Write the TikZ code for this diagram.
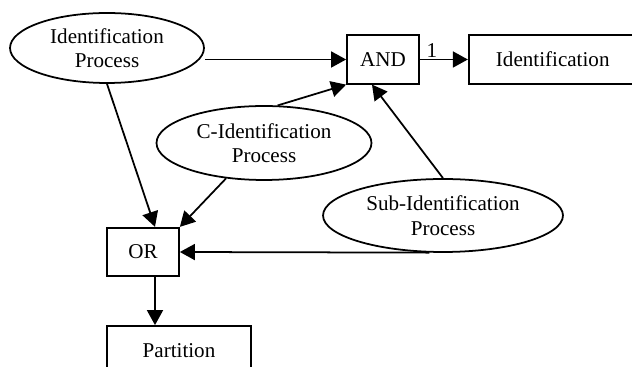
\documentclass[tikz,border=0pt]{standalone}
\usepackage{fontspec}
\setmainfont{Liberation Serif}
\usetikzlibrary{shapes.geometric, positioning, arrows.meta}

\begin{document}
\begin{tikzpicture}[x=0.02cm, y=-0.02cm, line width=1pt, >={Triangle[length=0.3cm, width=0.32cm]},
        font=\fontsize{12}{14}\selectfont,
        proc/.style={draw, ellipse, align=center, inner sep=0pt},
        gate/.style={draw, rectangle, minimum width=1.44cm, minimum height=0.97cm},
        result/.style={draw, rectangle, minimum height=0.97cm}]
        \useasboundingbox (0,0) rectangle (632,367);
        \clip (0,0) rectangle (632,367);
        % Nodes
        \node (idproc) [proc, minimum width=3.88cm, minimum height=1.4cm] at (107,48) {Identification\\Process};
        \node (and) [gate] at (383,59.5) {AND};
        \node (ident) [result, minimum width=3.36cm, right=0.96cm of and] {Identification};
        \node (cid) [proc, minimum width=4.3cm, minimum height=1.48cm] at (264,143) {C-Identification\\Process};
        \node (sub) [proc, minimum width=4.8cm, minimum height=1.46cm] at (443,215.5) {Sub-Identification\\Process};
        \node (or) [gate] at (143,252) {OR};
        \node (part) [result, minimum width=2.88cm, below right=0.96cm and 0cm of or.south west] {Partition};

        % Edges
        \draw[->] (idproc.east |- and.west) -- (and.west);
        \draw[->] (and.east) -- node[above, pos=0.25, inner sep=0.5pt] {1} (ident.west);
        \draw[->] (cid.70) -- (and.south west);
        \draw[->] (sub.north) -- ([xshift=-0.22cm]and.south);
        \draw[->] (idproc.south) -- ([xshift=0.24cm]or.north);
        \draw[->] (cid.223) -- (or.north east);
        \draw[->] (sub.250) -- (or.east);
        \draw[->] ([xshift=0.24cm]or.south) -- ([xshift=0.24cm]or.south |- part.north);
    \end{tikzpicture}
\end{document}
